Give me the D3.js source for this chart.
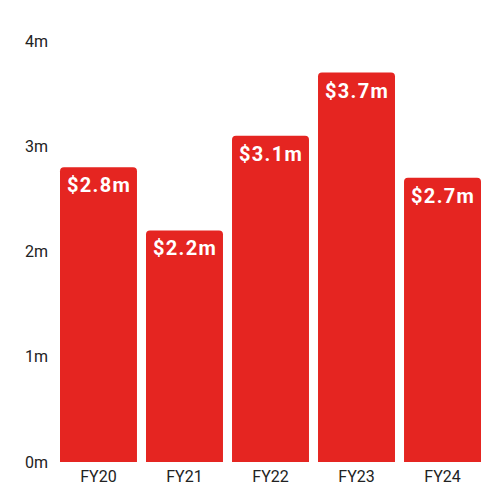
<!DOCTYPE html>
<html>
<head>
<meta charset="utf-8">
<script src="https://cdn.jsdelivr.net/npm/d3@7"></script>
<style>
  body { margin: 0; background: #fff; }
  text { font-family: Roboto, "Noto Sans", sans-serif; }
  .value { letter-spacing: 1.3px; }
</style>
</head>
<body>
<svg id="chart" width="500" height="500"></svg>
<script>
const years = ["FY20", "FY21", "FY22", "FY23", "FY24"];
const revenue = [2.8, 2.2, 3.1, 3.7, 2.7]; // millions
const yTicks = [0, 1, 2, 3, 4];

const svg = d3.select("#chart");
const barColour = "#e52521";

const x = d3.scaleBand()
  .domain(years)
  .range([60, 481])
  .paddingInner(0.105)
  .paddingOuter(0);

const y = d3.scaleLinear()
  .domain([0, 4])
  .range([462, 41]);

// y axis labels, no line or ticks
svg.append("g")
  .selectAll("text")
  .data(yTicks)
  .join("text")
  .attr("x", 48)
  .attr("y", d => y(d))
  .attr("dy", "0.35em")
  .attr("text-anchor", "end")
  .attr("font-size", 16)
  .attr("fill", "#222")
  .text(d => d + "m");

// bars with rounded top corners only
const r = 4;
function barPath(d, i) {
  const x0 = x(years[i]), x1 = x0 + x.bandwidth();
  const top = y(d), bottom = y(0);
  return `M${x0},${bottom}V${top + r}Q${x0},${top} ${x0 + r},${top}` +
    `H${x1 - r}Q${x1},${top} ${x1},${top + r}V${bottom}Z`;
}

svg.append("g")
  .selectAll("path")
  .data(revenue)
  .join("path")
  .attr("d", barPath)
  .attr("fill", barColour);

// value labels inside bars
svg.append("g")
  .selectAll("text")
  .data(revenue)
  .join("text")
  .attr("class", "value")
  .attr("x", (d, i) => x(years[i]) + x.bandwidth() / 2 + 0.6)
  .attr("y", d => y(d) + 25)
  .attr("text-anchor", "middle")
  .attr("font-size", 20)
  .attr("font-weight", "bold")
  .attr("fill", "#fff")
  .text(d => "$" + d.toFixed(1) + "m");

// x axis labels
svg.append("g")
  .selectAll("text")
  .data(years)
  .join("text")
  .attr("x", d => x(d) + x.bandwidth() / 2)
  .attr("y", 482)
  .attr("text-anchor", "middle")
  .attr("font-size", 16)
  .attr("fill", "#222")
  .text(d => d);
</script>
</body>
</html>
